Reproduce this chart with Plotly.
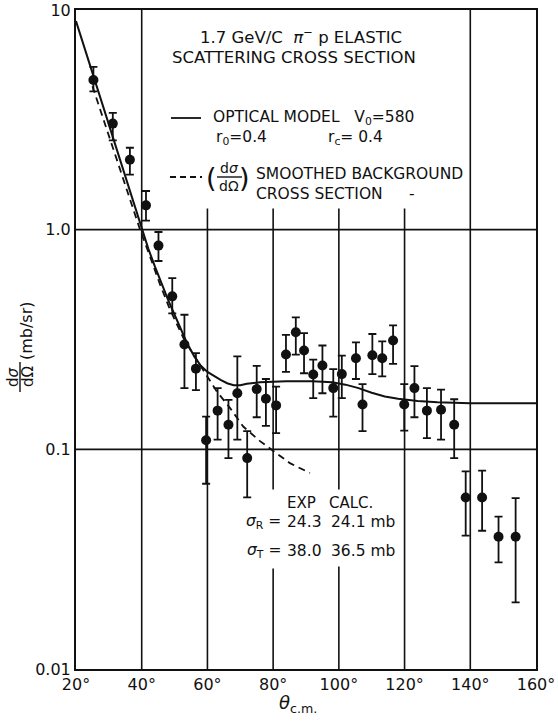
import plotly.graph_objects as go

# ---------------- data ----------------
theta = [25.3, 31.2, 36.4, 41.3, 45.1, 49.3, 53.0, 56.5, 59.6, 63.1, 66.4, 69.1,
         72.1, 75.0, 77.8, 80.9, 83.9, 86.9, 89.4, 92.2, 95.0, 98.3, 100.9, 105.2,
         107.2, 110.2, 113.2, 116.5, 119.9, 123.0, 126.8, 131.1, 135.1, 138.6,
         143.6, 148.6, 153.8]
dsig = [4.80, 3.04, 2.08, 1.29, 0.846, 0.497, 0.300, 0.233, 0.110, 0.150, 0.1295, 0.180,
        0.0912, 0.188, 0.170, 0.1585, 0.270, 0.341, 0.282, 0.219, 0.241, 0.190, 0.220, 0.260,
        0.160, 0.268, 0.260, 0.313, 0.160, 0.190, 0.150, 0.1515, 0.1295, 0.0604,
        0.0604, 0.040, 0.040]
err_hi = [5.51, 3.40, 2.36, 1.50, 0.976, 0.602, 0.410, 0.274, 0.141, 0.190, 0.168, 0.265,
          0.121, 0.240, 0.209, 0.193, 0.332, 0.399, 0.338, 0.256, 0.297, 0.232, 0.267, 0.307,
          0.198, 0.335, 0.310, 0.367, 0.198, 0.239, 0.190, 0.187, 0.169, 0.0793,
          0.080, 0.0494, 0.060]
err_lo = [4.26, 2.55, 1.78, 1.10, 0.72, 0.416, 0.190, 0.186, 0.0697, 0.1106, 0.0912, 0.1106,
          0.0604, 0.140, 0.128, 0.1185, 0.225, 0.270, 0.222, 0.171, 0.180, 0.141, 0.171, 0.209,
          0.121, 0.220, 0.215, 0.245, 0.1216, 0.140, 0.1125, 0.1106, 0.0912, 0.0405,
          0.0426, 0.0306, 0.0201]

optical_theta = [20, 25, 30, 35, 40, 42, 44, 46, 48, 50, 52, 54, 56, 58, 60, 62, 64, 66,
                 68, 70, 72, 76, 84, 92, 98, 102, 106, 110, 114, 118, 124, 130, 140, 160]
optical_val = [8.9, 5.2, 3.0, 1.75, 1.02, 0.82, 0.68, 0.57, 0.48, 0.41, 0.35, 0.30, 0.265,
               0.24, 0.225, 0.215, 0.207, 0.200, 0.196, 0.196, 0.199, 0.202, 0.204, 0.204,
               0.202, 0.197, 0.190, 0.181, 0.174, 0.170, 0.166, 0.164, 0.162, 0.162]

bg_theta = [25, 30, 35, 39.5, 42.5, 45.6, 48.6, 52.7, 55.7, 59.3, 62.8, 66.9, 70.9, 76.0,
            80.1, 85.1, 91.2]
bg_val = [4.5, 2.68, 1.60, 1.0, 0.756, 0.562, 0.433, 0.321, 0.270, 0.222, 0.184, 0.154,
          0.127, 0.109, 0.098, 0.0865, 0.078]

x_ticks = [20, 40, 60, 80, 100, 120, 140, 160]
x_ticktext = ["20°", "40°", "60°", "80°", "100°", "120°", "140°", "160°"]
y_ticks = [0.01, 0.1, 1, 10]
y_ticktext = ["0.01", "0.1", "1.0", "10"]

# grid segments (theta, from, to)
grid_v = [(40, 0.01, 10), (140, 0.01, 10), (60, 0.01, 1.25), (120, 0.01, 1.25),
          (80, 0.0657, 1.25), (80, 0.01, 0.0287), (100, 0.0657, 1.25), (100, 0.01, 0.0293)]
grid_h = [1.0, 0.1]

FONT = "DejaVu Sans"
INK = "#111111"

fig = go.Figure()

# grid lines
for xv, y0, y1 in grid_v:
    fig.add_trace(go.Scatter(x=[xv, xv], y=[y0, y1], mode="lines",
                             line=dict(color=INK, width=1.6), hoverinfo="skip", showlegend=False))
for yv in grid_h:
    fig.add_trace(go.Scatter(x=[20, 160], y=[yv, yv], mode="lines",
                             line=dict(color=INK, width=1.6), hoverinfo="skip", showlegend=False))

# curves
fig.add_trace(go.Scatter(x=optical_theta, y=optical_val, mode="lines",
                         line=dict(color=INK, width=2), showlegend=False, name="Optical model"))
fig.add_trace(go.Scatter(x=bg_theta, y=bg_val, mode="lines",
                         line=dict(color=INK, width=1.8, dash="7px,5px"), showlegend=False,
                         name="Smoothed background"))

# data
fig.add_trace(go.Scatter(
    x=theta, y=dsig, mode="markers",
    marker=dict(color=INK, size=10, line=dict(width=0)),
    error_y=dict(type="data", symmetric=False,
                 array=[h - v for h, v in zip(err_hi, dsig)],
                 arrayminus=[v - l for v, l in zip(dsig, err_lo)],
                 color=INK, thickness=1.8, width=4),
    showlegend=False, name="data"))

W, H = 558, 723
L, R, T, B = 76, 22, 10, 54


def P(px, py):
    return (px - L) / (W - L - R), (H - B - py) / (H - T - B)


ann = []


def text(px, py, s, size=15, xanchor="left", angle=0, yanchor="middle"):
    x, y = P(px, py)
    ann.append(dict(x=x, y=y, xref="paper", yref="paper", text=s, showarrow=False,
                    xanchor=xanchor, yanchor=yanchor, textangle=angle,
                    font=dict(family=FONT, size=size, color=INK)))


text(198, 36, "1.7 GeV/C  <i>π</i><sup>−</sup> p ELASTIC", 16.5)
text(170, 57, "SCATTERING CROSS SECTION", 16.5)
text(211, 118, "OPTICAL MODEL   V<sub>0</sub>=580", 15.5)
text(214, 138, "r<sub>0</sub>=0.4", 15.5)
text(326, 138, "r<sub>c</sub>= 0.4", 15.5)
text(204, 177, "(", 27)
text(229, 168, "d<i>σ</i>", 14, xanchor="center")
text(229, 186, "dΩ", 14, xanchor="center")
text(252, 177, ")", 27, xanchor="right")
text(254, 174, "SMOOTHED BACKGROUND", 15.5)
text(254, 194, "CROSS SECTION", 15.5)
text(407, 194, "-", 15.5)

text(285, 503, "EXP", 15)
text(327, 503, "CALC.", 15)
text(283, 522, "<i>σ</i><sub>R</sub> =", 15.5, xanchor="right")
text(285, 522, "24.3", 15.5)
text(329, 522, "24.1 mb", 15.5)
text(283, 551, "<i>σ</i><sub>T</sub> =", 15.5, xanchor="right")
text(285, 551, "38.0", 15.5)
text(329, 551, "36.5 mb", 15.5)

# y-axis title pieces (rotated)
text(13, 377, "d<i>σ</i>", 15, xanchor="center", angle=-90)
text(28, 377, "dΩ", 15, xanchor="center", angle=-90)
text(26, 331, "(mb/sr)", 16, xanchor="center", angle=-90)

# x-axis title
text(298, 704, "<i>θ</i><sub>c.m.</sub>", 18, xanchor="center")

shapes = []


def seg(p0, p1, dash="solid", width=1.8):
    x0, y0 = P(*p0)
    x1, y1 = P(*p1)
    shapes.append(dict(type="line", xref="paper", yref="paper", x0=x0, y0=y0, x1=x1, y1=y1,
                       line=dict(color=INK, width=width, dash=dash)))


seg((171, 118), (201, 118))
seg((170, 177), (202, 177), dash="6px,4px")
seg((217, 177), (242, 177), width=1.4)
seg((20, 362), (20, 392), width=1.4)

fig.update_layout(
    width=W, height=H,
    margin=dict(l=L, r=R, t=T, b=B, autoexpand=False),
    paper_bgcolor="white", plot_bgcolor="white",
    annotations=ann, shapes=shapes,
    font=dict(family=FONT, size=15, color=INK),
    xaxis=dict(range=[20, 160], tickvals=x_ticks, ticktext=x_ticktext, showgrid=False,
               zeroline=False, showline=True, linecolor=INK, linewidth=2, mirror=True,
               ticks="", automargin=False, tickfont=dict(family=FONT, size=16, color=INK)),
    yaxis=dict(type="log", range=[-2, 1], tickvals=y_ticks, ticktext=y_ticktext,
               showgrid=False, zeroline=False, showline=True, linecolor=INK, linewidth=2,
               mirror=True, ticks="", automargin=False,
               tickfont=dict(family=FONT, size=16, color=INK)),
)

fig.write_html("out.html", config={"displayModeBar": False},
               post_script="document.body.style.margin='0';document.body.style.overflow='hidden';")
